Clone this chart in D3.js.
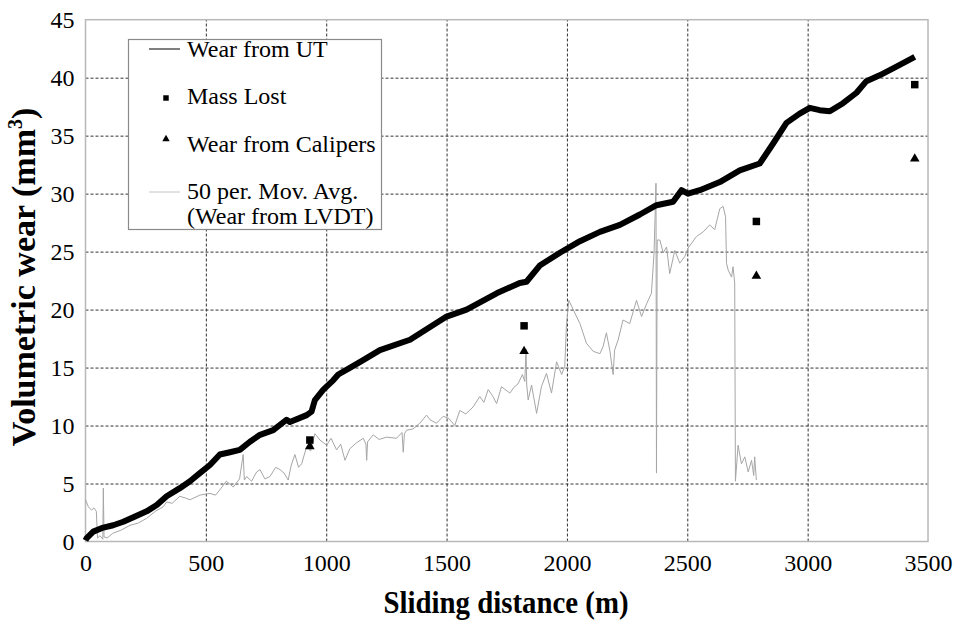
<!DOCTYPE html>
<html>
<head>
<meta charset="utf-8">
<script src="https://cdn.jsdelivr.net/npm/d3@7"></script>
<style>
  body { margin: 0; background: #fff; }
</style>
</head>
<body>
<div id="container"></div>
<script>
// Wear from UT (thick black band)
const utDist = [0,5,32,74,115,157,199,254,296,337,392,434,475,517,558,600,641,683,725,780,835,849,919,939,953,988,1029,1050,1100,1150,1223,1348,1500,1583,1708,1804,1832,1887,1971,2054,2137,2220,2303,2372,2441,2476,2503,2552,2635,2718,2801,2856,2912,2967,3009,3050,3092,3147,3203,3244,3299,3355,3410,3445];
const utWear = [0.1,0.3,0.85,1.2,1.4,1.7,2.1,2.6,3.15,3.9,4.6,5.2,5.9,6.6,7.5,7.7,7.9,8.6,9.2,9.6,10.5,10.3,10.9,11.2,12.2,13.1,13.9,14.4,15.0,15.6,16.5,17.4,19.4,20.0,21.4,22.3,22.4,23.8,24.9,25.9,26.7,27.3,28.2,29.0,29.3,30.3,30.0,30.3,31.0,32.0,32.6,34.3,36.1,36.9,37.4,37.2,37.1,37.8,38.7,39.7,40.2,40.8,41.4,41.8];

// 50 per. Mov. Avg. (Wear from LVDT)
const lvdtDist = [0,12,25,35,45,50,60,72,74,77,90,113,150,185,220,254,290,323,337,360,392,415,434,475,517,540,558,585,614,640,655,660,669,690,711,725,745,766,790,808,825,842,855,870,885,898,919,935,953,974,1002,1020,1043,1060,1078,1098,1125,1154,1165,1168,1172,1195,1220,1251,1292,1315,1320,1325,1334,1360,1389,1417,1431,1458,1486,1510,1534,1555,1580,1610,1638,1655,1673,1690,1708,1728,1763,1780,1797,1815,1825,1830,1833,1839,1853,1874,1894,1915,1936,1957,1978,1991,1998,2008,2033,2054,2081,2109,2137,2150,2164,2178,2192,2198,2213,2233,2261,2289,2310,2331,2351,2362,2370,2372,2375,2386,2400,2414,2427,2448,2469,2490,2503,2538,2566,2593,2614,2635,2649,2659,2663,2670,2684,2690,2697,2700,2711,2725,2739,2753,2767,2776,2780,2787];
const lvdtWear = [3.6,3.0,2.7,2.9,2.6,0.3,0.5,0.2,4.6,0.4,0.3,0.7,1.0,1.4,1.6,2.0,2.6,3.0,3.4,3.3,3.9,3.75,3.6,4.0,4.15,4.0,4.45,5.2,4.7,5.4,7.5,5.3,5.6,5.2,6.0,6.2,5.4,5.6,6.4,6.2,5.9,5.3,6.6,7.5,6.4,6.7,8.2,7.8,9.3,8.75,8.3,8.9,7.9,8.4,7.0,8.0,8.5,8.9,8.4,7.0,8.6,9.2,8.8,9.0,8.9,9.4,7.7,9.3,9.6,9.7,10.2,10.9,10.5,10.2,10.8,10.6,10.0,11.3,11.0,11.6,12.5,12.0,13.1,12.6,11.9,13.35,12.8,13.3,13.6,14.4,13.8,16.6,13.5,12.2,13.5,11.05,13.35,14.5,12.8,15.5,14.4,15.1,18.7,20.8,19.7,18.8,17.1,16.4,16.2,16.8,18.0,16.5,14.4,16.5,17.4,19.1,18.8,20.8,19.4,20.5,21.4,24.9,30.9,5.9,26.0,26.0,24.9,25.4,23.1,25.1,24.0,24.6,25.3,26.3,26.7,27.3,26.9,28.7,28.9,28.0,24.0,23.4,22.8,23.7,22.3,5.2,8.3,6.7,7.3,6.0,7.0,5.7,7.3,5.3];

// Mass Lost and Wear from Calipers
const pointDist = [932,1822,2787,3445];
const massWear = [8.75,18.6,27.6,39.4];
const caliperWear = [8.2,16.4,22.9,33.0];

const xTicks = [0,500,1000,1500,2000,2500,3000,3500];
const yTicks = [0,5,10,15,20,25,30,35,40,45];

const serif = '"Liberation Serif"';
const width = 956;
const height = 621;
const margin = { top: 19.7, bottom: 79.5, left: 85.5, right: 28 };

const svg = d3.select('#container')
    .append('svg')
    .attr('width', width)
    .attr('height', height);

svg.append('rect').attr('width', width).attr('height', height).attr('fill', '#fff');

const x = d3.scaleLinear()
    .domain([0, 3500])
    .range([margin.left, width - margin.right]);

const y = d3.scaleLinear()
    .domain([0, 45])
    .range([height - margin.bottom, margin.top]);

// grid
svg.append('g')
    .attr('transform', `translate(0,${y(0)})`)
    .call(d3.axisBottom(x).tickValues(xTicks.slice(1, -1)).tickSize(-(y(0) - y(45))).tickFormat(''))
    .call(g => g.select('.domain').remove())
    .selectAll('line')
    .attr('stroke', '#333')
    .attr('stroke-dasharray', '3,2');

svg.append('g')
    .attr('transform', `translate(${x(0)},0)`)
    .call(d3.axisLeft(y).tickValues(yTicks.slice(1, -1)).tickSize(-(x(3500) - x(0))).tickFormat(''))
    .call(g => g.select('.domain').remove())
    .selectAll('line')
    .attr('stroke', '#333')
    .attr('stroke-dasharray', '3,2');

// plot border
svg.append('rect')
    .attr('x', x(0)).attr('y', y(45))
    .attr('width', x(3500) - x(0)).attr('height', y(0) - y(45))
    .attr('fill', 'none').attr('stroke', '#b8b8b8').attr('stroke-width', 1.5);

// tick labels
svg.append('g')
    .attr('transform', `translate(0,${y(0)})`)
    .call(d3.axisBottom(x).tickValues(xTicks).tickSize(0).tickPadding(12).tickFormat(d3.format('d')))
    .call(g => g.select('.domain').remove())
    .attr('font-size', 24)
    .selectAll('text')
    .attr('fill', '#000');

svg.append('g')
    .attr('transform', `translate(${x(0)},0)`)
    .call(d3.axisLeft(y).tickValues(yTicks).tickSize(0).tickPadding(11).tickFormat(d3.format('d')))
    .call(g => g.select('.domain').remove())
    .attr('font-size', 24)
    .selectAll('text')
    .attr('fill', '#000');

// LVDT moving average
const lvdt = lvdtDist.map((d, i) => [d, lvdtWear[i]]);
svg.append('path')
    .datum(lvdt)
    .attr('fill', 'none')
    .attr('stroke', '#a6a6a6')
    .attr('stroke-width', 1)
    .attr('d', d3.line().x(d => x(d[0])).y(d => y(d[1])));

// UT
const ut = utDist.map((d, i) => [d, utWear[i]]);
svg.append('path')
    .datum(ut)
    .attr('fill', 'none')
    .attr('stroke', '#000')
    .attr('stroke-width', 6)
    .attr('stroke-linejoin', 'round')
    .attr('d', d3.line().x(d => x(d[0])).y(d => y(d[1])));

// points
svg.append('g')
    .selectAll('path')
    .data(pointDist)
    .join('path')
    .attr('transform', (d, i) => `translate(${x(d)},${y(massWear[i])})`)
    .attr('d', d3.symbol(d3.symbolSquare, 56))
    .attr('fill', '#000');

svg.append('g')
    .selectAll('path')
    .data(pointDist)
    .join('path')
    .attr('transform', (d, i) => `translate(${x(d)},${y(caliperWear[i])})`)
    .attr('d', d3.symbol(d3.symbolTriangle, 40))
    .attr('fill', '#000');

// legend
const legend = svg.append('g');
legend.append('rect')
    .attr('x', 128.5).attr('y', 39.5).attr('width', 253).attr('height', 190)
    .attr('fill', '#fff').attr('stroke', '#8a8a8a').attr('stroke-width', 1.2);
legend.append('line').attr('x1', 149).attr('x2', 180).attr('y1', 49).attr('y2', 49)
    .attr('stroke', '#000').attr('stroke-width', 1);
legend.append('path').attr('transform', 'translate(166,98)')
    .attr('d', d3.symbol(d3.symbolSquare, 30)).attr('fill', '#000');
legend.append('path').attr('transform', 'translate(166,139)')
    .attr('d', d3.symbol(d3.symbolTriangle, 24)).attr('fill', '#000');
legend.append('line').attr('x1', 149).attr('x2', 180).attr('y1', 192).attr('y2', 192)
    .attr('stroke', '#c4c4c4').attr('stroke-width', 1);

const legendText = [
    { t: 'Wear from UT', y: 56.5 },
    { t: 'Mass Lost', y: 104 },
    { t: 'Wear from Calipers', y: 151.5 },
    { t: '50 per. Mov. Avg.', y: 198.5 },
    { t: '(Wear from LVDT)', y: 223.5 }
];
legend.selectAll('text.lg')
    .data(legendText)
    .join('text')
    .attr('class', 'lg')
    .attr('x', 187)
    .attr('y', d => d.y)
    .attr('font-size', 24)
    .text(d => d.t);

// axis titles
svg.append('text')
    .attr('x', 506)
    .attr('y', 613)
    .attr('text-anchor', 'middle')
    .attr('font-size', 31)
    .attr('font-weight', 'bold')
    .attr('textLength', 245)
    .attr('lengthAdjust', 'spacingAndGlyphs')
    .text('Sliding distance (m)');

const yt = svg.append('text')
    .attr('transform', 'translate(35,277) rotate(-90)')
    .attr('text-anchor', 'middle')
    .attr('font-size', 34)
    .attr('font-weight', 'bold');
yt.append('tspan').text('Volumetric wear (mm');
yt.append('tspan').attr('font-size', 20).attr('dy', -13).text('3');
yt.append('tspan').attr('dy', 13).text(')');

// every text in Times-like serif
svg.selectAll('text').attr('font-family', serif);
svg.selectAll('g').attr('font-family', null);
</script>
</body>
</html>
